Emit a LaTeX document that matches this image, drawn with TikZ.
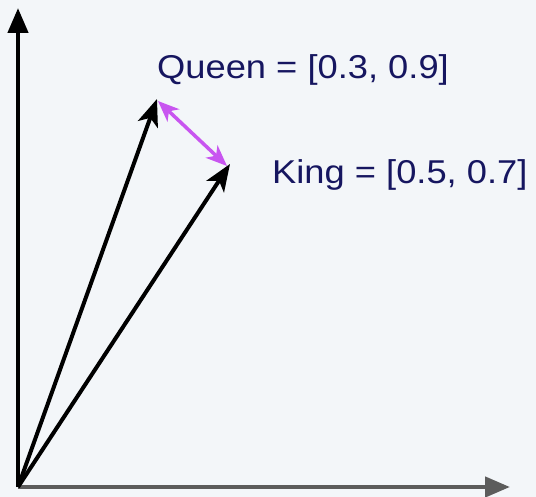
\documentclass[tikz,border=0pt]{standalone}
\usepackage{fontspec}
\setmainfont{Liberation Sans}
\usepackage{graphicx}
\usetikzlibrary{arrows.meta,positioning}
\definecolor{bgpanel}{RGB}{243,246,249}
\definecolor{axisgray}{RGB}{92,92,92}
\definecolor{labelnavy}{RGB}{22,22,96}
\definecolor{diffpurple}{RGB}{200,85,240}
\tikzset{
  axisline/.style={-{Triangle[length=25pt,width=20pt]},line width=4.5pt},
  vec/.style={-{Stealth[length=27pt,width=21pt,inset=7pt]},line width=4pt,draw=black},
  diff/.style={{Stealth[length=21pt,width=17pt,inset=6pt]}-{Stealth[length=21pt,width=17pt,inset=6pt]},line width=3.5pt,draw=diffpurple},
  veclabel/.style={font=\fontsize{33}{40}\selectfont,text=labelnavy,inner sep=0pt,anchor=base west}
}

\begin{document}
\begin{tikzpicture}[x=1pt,y=-1pt]
  \fill[bgpanel] (0,0) rectangle (536,497);
  \useasboundingbox (0,0) rectangle (536,497);

  % axes
  \coordinate (O)    at (18,487);
  \coordinate (ytop) at (18,8);
  \coordinate (xend) at (510,487);
  \draw[axisline,draw=axisgray] (O)--(xend);
  \draw[axisline,draw=black] (O)--(ytop);

  % word vectors
  \coordinate (queen) at (157,99);
  \coordinate (king)  at (230,164);
  \draw[vec] (O)--(queen);
  \draw[vec] (O)--(king);

  % difference
  \coordinate (dq) at (158,101);
  \coordinate (dk) at (227,166);
  \draw[diff] (dq)--(dk);

  \node[veclabel] (queenlab) at (157,79) {\scalebox{1.1}[1]{Queen = [0.3, 0.9]}};
  \node[veclabel] (kinglab)  at (272,184) {\scalebox{1.1}[1]{King = [0.5, 0.7]}};
\end{tikzpicture}
\end{document}
